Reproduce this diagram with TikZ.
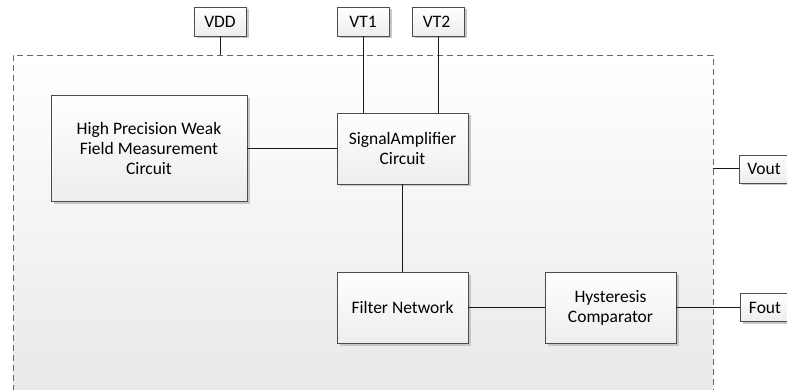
\documentclass[tikz,border=0pt]{standalone}
\usepackage{fontspec}
\setmainfont{Carlito}
\usetikzlibrary{shadows}

\begin{document}
\begin{tikzpicture}[x=1pt, y=-1pt,
    font=\fontsize{17.5}{20}\selectfont,
    block/.style={draw=black!70, top color=white, bottom color=black!7,
        drop shadow={shadow xshift=2.5pt, shadow yshift=-2.5pt, fill=black!22, opacity=1},
        align=center, inner sep=2pt, minimum width=131pt, minimum height=71pt},
    pin/.style={block, minimum width=52pt, minimum height=29pt},
    wire/.style={draw=black!90, line width=1pt}]
    \useasboundingbox (0,0) rectangle (787,390);

    %gehaeuse
    \node[draw=black!60, dash pattern=on 6pt off 4pt, top color=white, bottom color=black!9,
        anchor=north west, minimum width=700pt, minimum height=350pt,
        inner sep=0pt] (frame) at (13,55) {};

    %bloecke
    \node[block, minimum width=196pt, minimum height=106pt] (sensor) at (149,148.5)
        {High Precision Weak\\Field Measurement\\Circuit};
    \node[block] (amp) at (402.5,148.5) {SignalAmplifier\\Circuit};
    \node[block] (filter) at (402.5,307.5) {Filter Network};
    \node[block] (hyst) at (610.5,307.5) {Hysteresis\\Comparator};

    %anschluesse
    \foreach \name/\x/\label in {
        vdd/220/VDD, vt1/363/VT1, vt2/438.5/VT2
    } {
        \node[pin] (\name) at (\x,21.5) {\label};
    }
    \node[pin, minimum width=50pt, minimum height=28pt] (vout) at (764,169) {Vout};
    \node[pin, minimum width=50pt, minimum height=28pt] (fout) at (765,307.5) {Fout};

    %leitungen
    \draw[wire] (vdd.south) -- (vdd.south |- frame.north);
    \draw[wire] (vt1.south) -- (vt1.south |- amp.north);
    \draw[wire] (vt2.south) -- (vt2.south |- amp.north);
    \draw[wire] (sensor) -- (amp);
    \draw[wire] (amp) -- (filter);
    \draw[wire] (filter) -- (hyst);
    \draw[wire] (hyst) -- (fout);
    \draw[wire] (frame.east |- vout) -- (vout);
\end{tikzpicture}
\end{document}
